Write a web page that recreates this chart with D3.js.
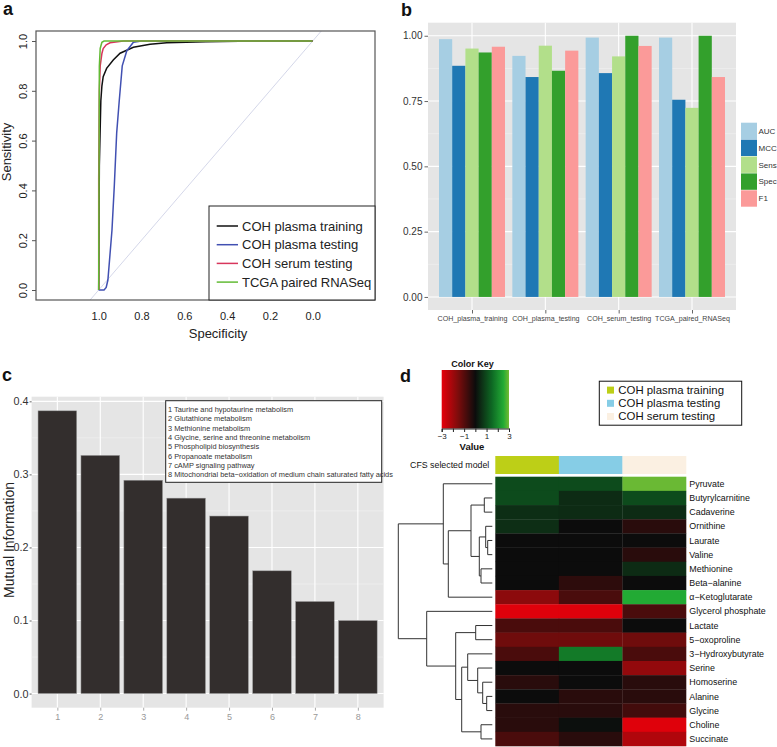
<!DOCTYPE html>
<html><head><meta charset="utf-8">
<script src="https://cdn.jsdelivr.net/npm/d3@7"></script>
<style>
body{margin:0;background:#fff}
svg{display:block;font-family:"Liberation Sans",Arial,Helvetica,sans-serif}
</style>
</head><body>
<svg id="chart" width="777" height="747"></svg>
<script>
// ---------------- DATA ----------------
// Panel a: ROC curves (specificity, sensitivity)
const rocNames = ["COH plasma training","COH plasma testing","COH serum testing","TCGA paired RNASeq"];
const rocColors = ["#111111","#4150b2","#d8365c","#62bb35"];
const trainSpec = [1,0.997,0.99,0.985,0.979,0.963,0.932,0.9,0.838,0.76,0.682,0.5,0.25,0];
const trainSens = [0,0.5,0.76,0.82,0.857,0.89,0.924,0.951,0.975,0.987,0.993,0.997,1,1];
const testSpec = [1,0.975,0.965,0.957,0.938,0.927,0.916,0.904,0.89,0.869,0.838,0.8,0];
const testSens = [0,0,0.01,0.04,0.24,0.42,0.63,0.76,0.9,0.96,0.995,1,1];
const serumSpec = [1,1,0.997,0.993,0.985,0.979,0.965,0.947,0.885,0];
const serumSens = [0,0.45,0.8,0.9,0.95,0.97,0.985,0.993,1,1];
const tcgaSpec = [1,0.997,0.993,0.985,0.975,0];
const tcgaSens = [0,0.9,0.97,0.995,1,1];
const rocTicks = [1.0,0.8,0.6,0.4,0.2,0.0];

// Panel b: performance metrics
const datasets = ["COH_plasma_training","COH_plasma_testing","COH_serum_testing","TCGA_paired_RNASeq"];
const metrics = ["AUC","MCC","Sens","Spec","F1"];
const metricColors = ["#a6cee3","#1f78b4","#b2df8a","#33a02c","#fb9a99"];
const aucVals  = [0.987,0.923,0.993,0.993];
const mccVals  = [0.885,0.842,0.857,0.755];
const sensVals = [0.951,0.962,0.921,0.724];
const specVals = [0.936,0.866,1.000,1.000];
const f1Vals   = [0.958,0.943,0.961,0.842];
const bTicks = [0,0.25,0.5,0.75,1];

// Panel c: mutual information per pathway
const pathwayIds = ["1","2","3","4","5","6","7","8"];
const pathwayNames = ["Taurine and hypotaurine metabolism","Glutathione metabolism","Methionine metabolism",
  "Glycine, serine and threonine metabolism","Phospholipid biosynthesis","Propanoate metabolism",
  "cAMP signaling pathway","Mitochondrial beta\u2212oxidation of medium chain saturated fatty acids"];
const miVals = [0.387,0.326,0.292,0.2675,0.243,0.168,0.126,0.100];
const cTicks = [0,0.1,0.2,0.3,0.4];

// Panel d: heatmap
const hmCols = ["COH plasma training","COH plasma testing","COH serum testing"];
const hmColColors = ["#bdcf17","#86cde6","#fbf0e2"];
const hmRows = ["Pyruvate","Butyrylcarnitine","Cadaverine","Ornithine","Laurate","Valine","Methionine",
  "Beta\u2212alanine","\u03b1\u2212Ketoglutarate","Glycerol phosphate","Lactate","5\u2212oxoproline",
  "3\u2212Hydroxybutyrate","Serine","Homoserine","Alanine","Glycine","Choline","Succinate"];
const valTraining = [1.0,1.0,0.55,0.55,0.0,0.0,0.0,0.0,-1.75,-2.9,-0.85,-1.35,-0.85,0.0,-0.4,0.0,-0.4,-0.4,-0.85];
const valTesting  = [1.0,0.5,0.5,0.0,0.0,0.0,0.0,-0.45,-0.85,-2.9,-0.85,-1.35,1.75,0.0,0.0,-0.4,-0.4,0.05,-0.4];
const valSerum    = [2.95,1.0,0.5,-0.4,0.0,-0.4,0.5,0.0,2.5,-0.85,0.0,-1.35,-0.85,-1.85,-0.4,-0.4,-0.75,-2.9,-2.25];
const keyStops  = [-3,-1.5,0,1.5,2.5,3];
const keyColors = ["#e6000b","#7a0c0c","#0c0c0c","#0e6a24","#22aa34","#72bb34"];
const keyTicks = [-3,-2,-1,0,1,2,3];
const keyLabels = [-3,-1,1,3];
// Row dendrogram (hclust style: negative = leaf index, positive = merge step)
const mergeLeft   = [-5,-16,-4,-2,-15,-7,-18, 3,-14,-11, 4,-13,12,10,11,-1,-10,16];
const mergeRight  = [-6,-17, 1,-3,  2,-8,-19, 6,  5,-12, 8,  9, 7,13,-9,15, 14,17];
const mergeHeight = [4.6,5.6,6.6,8,9.6,11.3,11.3,13,14.6,16.6,21.3,24.6,30.6,36.6,44,49,65.6,94];

// ---------------- DRAW ----------------
const svg = d3.select("#chart");
const label = (x,y,t) => svg.append("text").attr("x",x).attr("y",y).text(t)
  .attr("font-size",18).attr("font-weight","bold").attr("fill","#111");
label(3,15,"a"); label(401,16,"b"); label(2,381,"c"); label(400,382,"d");

// ===== Panel a =====
(function(){
  const g = svg.append("g");
  const x = d3.scaleLinear().domain([1,0]).range([98.7,312.7]);
  const y = d3.scaleLinear().domain([0,1]).range([290,41]);
  const box = {x0:36,x1:375,y0:31,y1:300};
  svg.append("clipPath").attr("id","clipA").append("rect")
    .attr("x",box.x0).attr("y",box.y0).attr("width",box.x1-box.x0).attr("height",box.y1-box.y0);
  const pg = g.append("g").attr("clip-path","url(#clipA)");
  pg.append("line").attr("x1",x(1.5)).attr("y1",y(-0.5)).attr("x2",x(-0.5)).attr("y2",y(1.5))
    .attr("stroke","#c9cde3").attr("stroke-width",0.8);
  const curves = [[trainSpec,trainSens],[testSpec,testSens],[serumSpec,serumSens],[tcgaSpec,tcgaSens]];
  const line = d3.line().x(d=>x(d[0])).y(d=>y(d[1]));
  curves.forEach((c,i)=>{
    const pts = c[0].map((s,j)=>[s,c[1][j]]);
    pg.append("path").attr("d",line(pts)).attr("fill","none")
      .attr("stroke",rocColors[i]).attr("stroke-width",1.5);
  });
  g.append("rect").attr("x",box.x0).attr("y",box.y0).attr("width",box.x1-box.x0).attr("height",box.y1-box.y0)
    .attr("fill","none").attr("stroke","#555").attr("stroke-width",1.2);
  const ya = g.append("g").attr("transform",`translate(${box.x0},0)`)
    .call(d3.axisLeft(y).tickValues([0,0.2,0.4,0.6,0.8,1]).tickFormat(d3.format(".1f")).tickSize(4));
  ya.select(".domain").remove();
  ya.selectAll("line").attr("stroke","#555");
  ya.selectAll("text").attr("x",null).attr("dy",null).attr("text-anchor","middle")
    .attr("transform","translate(-9,0) rotate(-90)").attr("font-size",11)
    .attr("font-family",null).attr("fill","#222");
  const xa = g.append("g").attr("transform",`translate(0,${box.y1})`)
    .call(d3.axisBottom(x).tickValues(rocTicks).tickFormat(d3.format(".1f")).tickSize(0));
  xa.select(".domain").remove();
  xa.selectAll("text").attr("y",12).attr("dy","0.71em").attr("font-size",11)
    .attr("font-family",null).attr("fill","#222");
  g.append("text").attr("x",218).attr("y",338).attr("text-anchor","middle")
    .attr("font-size",13).attr("fill","#222").text("Specificity");
  g.append("text").attr("transform","translate(11,152) rotate(-90)").attr("text-anchor","middle")
    .attr("font-size",13).attr("fill","#222").text("Sensitivity");
  // legend
  g.append("rect").attr("x",209).attr("y",206).attr("width",166).attr("height",94)
    .attr("fill","#fff").attr("stroke","#222").attr("stroke-width",1);
  rocNames.forEach((n,i)=>{
    const yy = 226 + i*18.7;
    g.append("line").attr("x1",216.7).attr("x2",238).attr("y1",yy).attr("y2",yy)
      .attr("stroke",rocColors[i]).attr("stroke-width",1.5);
    g.append("text").attr("x",242).attr("y",yy).attr("dy","0.35em").attr("font-size",13)
      .attr("fill","#222").text(n);
  });
})();

// ===== Panel b =====
(function(){
  const g = svg.append("g");
  const P = {x0:428,x1:736,y0:22.7,y1:310};
  const x = d3.scalePoint().domain(datasets).range([P.x0,P.x1]).padding(0.6);
  const step = x.step();
  const x1 = d3.scaleBand().domain(metrics).range([-0.45*step,0.45*step]);
  const y = d3.scaleLinear().domain([-0.05,1.05]).range([P.y1,P.y0]);
  g.append("rect").attr("x",P.x0).attr("y",P.y0).attr("width",P.x1-P.x0).attr("height",P.y1-P.y0).attr("fill","#e5e5e5");
  [0.125,0.375,0.625,0.875].forEach(v=>g.append("line").attr("x1",P.x0).attr("x2",P.x1)
    .attr("y1",y(v)).attr("y2",y(v)).attr("stroke","#f2f2f2").attr("stroke-width",0.6));
  bTicks.forEach(v=>g.append("line").attr("x1",P.x0).attr("x2",P.x1)
    .attr("y1",y(v)).attr("y2",y(v)).attr("stroke","#fff").attr("stroke-width",1.1));
  datasets.forEach(d=>g.append("line").attr("x1",x(d)).attr("x2",x(d))
    .attr("y1",P.y0).attr("y2",P.y1).attr("stroke","#fff").attr("stroke-width",1.1));
  const series = [aucVals,mccVals,sensVals,specVals,f1Vals];
  datasets.forEach((d,i)=>{
    metrics.forEach((m,k)=>{
      g.append("rect").attr("x",x(d)+x1(m)).attr("width",x1.bandwidth())
        .attr("y",y(series[k][i])).attr("height",y(0)-y(series[k][i])).attr("fill",metricColors[k]);
    });
  });
  const ya = g.append("g").attr("transform",`translate(${P.x0},0)`)
    .call(d3.axisLeft(y).tickValues(bTicks).tickFormat(d3.format(".2f")).tickSize(3.5).tickPadding(2));
  ya.select(".domain").remove();
  ya.selectAll("line").attr("stroke","#666");
  ya.selectAll("text").attr("font-size",10).attr("font-family",null).attr("fill","#333");
  const xa = g.append("g").attr("transform",`translate(0,${P.y1})`)
    .call(d3.axisBottom(x).tickSize(3.5).tickPadding(2.5));
  xa.select(".domain").remove();
  xa.selectAll("line").attr("stroke","#666");
  xa.selectAll("text").attr("font-size",7.1).attr("font-family",null).attr("fill","#444");
  metrics.forEach((m,k)=>{
    const yy = 122.7 + k*16.9;
    g.append("rect").attr("x",741).attr("y",yy).attr("width",16).attr("height",16.4).attr("fill",metricColors[k]);
    g.append("text").attr("x",758.5).attr("y",yy+8.2).attr("dy","0.35em").attr("font-size",8)
      .attr("fill","#333").text(m);
  });
})();

// ===== Panel c =====
(function(){
  const g = svg.append("g");
  const P = {x0:31.6,x1:383.6,y0:396.7,y1:707.7};
  const x = d3.scalePoint().domain(pathwayIds).range([P.x0,P.x1]).padding(0.6);
  const bw = 0.9*x.step();
  const y = d3.scaleLinear().domain([-0.01935,0.40635]).range([P.y1,P.y0]);
  g.append("rect").attr("x",P.x0).attr("y",P.y0).attr("width",P.x1-P.x0).attr("height",P.y1-P.y0).attr("fill","#e5e5e5");
  [0.05,0.15,0.25,0.35].forEach(v=>g.append("line").attr("x1",P.x0).attr("x2",P.x1)
    .attr("y1",y(v)).attr("y2",y(v)).attr("stroke","#f2f2f2").attr("stroke-width",0.6));
  cTicks.forEach(v=>g.append("line").attr("x1",P.x0).attr("x2",P.x1)
    .attr("y1",y(v)).attr("y2",y(v)).attr("stroke","#fff").attr("stroke-width",1.1));
  pathwayIds.forEach(d=>g.append("line").attr("x1",x(d)).attr("x2",x(d))
    .attr("y1",P.y0).attr("y2",P.y1).attr("stroke","#fff").attr("stroke-width",1.1));
  pathwayIds.forEach((d,i)=>{
    g.append("rect").attr("x",x(d)-bw/2).attr("width",bw).attr("y",y(miVals[i]))
      .attr("height",y(0)-y(miVals[i])).attr("fill","#332e2d").attr("stroke","#9a9a9a").attr("stroke-width",0.5);
  });
  const ya = g.append("g").attr("transform",`translate(${P.x0},0)`)
    .call(d3.axisLeft(y).tickValues(cTicks).tickFormat(d3.format(".1f")).tickSize(2).tickPadding(1));
  ya.select(".domain").remove();
  ya.selectAll("line").attr("stroke","#666");
  ya.selectAll("text").attr("font-size",10.8).attr("font-family",null).attr("fill","#333");
  const xa = g.append("g").attr("transform",`translate(0,${P.y1})`)
    .call(d3.axisBottom(x).tickSize(3).tickPadding(3));
  xa.select(".domain").remove();
  xa.selectAll("line").attr("stroke","#aaa");
  xa.selectAll("text").attr("font-size",9).attr("font-family",null).attr("fill","#999");
  g.append("text").attr("transform","translate(14,540) rotate(-90)").attr("text-anchor","middle")
    .attr("font-size",14).attr("fill","#222").text("Mutual Information");
  g.append("rect").attr("x",165.7).attr("y",400.7).attr("width",216).attr("height",81.6)
    .attr("fill","#fff").attr("stroke","#222").attr("stroke-width",1);
  pathwayNames.forEach((n,i)=>{
    g.append("text").attr("x",168).attr("y",409.3+i*9.33).attr("dy","0.35em")
      .attr("font-size",7.4).attr("fill","#333").text(pathwayIds[i]+" "+n);
  });
})();

// ===== Panel d =====
(function(){
  const g = svg.append("g");
  const color = d3.scaleLinear().domain(keyStops).range(keyColors);
  // color key
  const kx = d3.scaleLinear().domain([-3,3]).range([441.7,509]);
  const grad = svg.append("defs").append("linearGradient").attr("id","keyGrad");
  d3.range(0,1.0001,0.02).forEach(t=>grad.append("stop").attr("offset",t).attr("stop-color",color(-3+6*t)));
  g.append("rect").attr("x",441.7).attr("y",370).attr("width",509-441.7).attr("height",58.5).attr("fill","url(#keyGrad)");
  g.append("text").attr("x",472.5).attr("y",367).attr("text-anchor","middle").attr("font-size",9)
    .attr("font-weight","bold").attr("fill","#111").text("Color Key");
  const ka = g.append("g").attr("transform","translate(0,428.5)")
    .call(d3.axisBottom(kx).tickValues(keyTicks).tickFormat(d=>keyLabels.includes(d)?(d<0?"\u2212"+(-d):d):"").tickSize(3.5).tickPadding(1.5));
  ka.select(".domain").attr("stroke","#222");
  ka.selectAll("line").attr("stroke","#222");
  ka.selectAll("text").attr("font-size",8).attr("font-family",null).attr("fill","#222");
  g.append("text").attr("x",472).attr("y",449.5).attr("text-anchor","middle").attr("font-size",9.5)
    .attr("font-weight","bold").attr("fill","#111").text("Value");
  // legend
  g.append("rect").attr("x",599.3).attr("y",381.2).attr("width",142.4).attr("height",44)
    .attr("fill","#fff").attr("stroke","#111").attr("stroke-width",1);
  hmCols.forEach((n,i)=>{
    const yy = 390.1 + i*13.2;
    g.append("rect").attr("x",607).attr("y",yy-3.5).attr("width",7).attr("height",7).attr("fill",hmColColors[i]);
    g.append("text").attr("x",618.3).attr("y",yy).attr("dy","0.35em").attr("font-size",11.4)
      .attr("fill","#111").text(n);
  });
  // heatmap
  const x = d3.scaleBand().domain(hmCols).range([495.3,686]);
  const y = d3.scaleBand().domain(hmRows).range([476.7,746]);
  g.append("text").attr("x",489.3).attr("y",465).attr("dy","0.35em").attr("text-anchor","end")
    .attr("font-size",8.8).attr("fill","#111").text("CFS selected model");
  hmCols.forEach((c,i)=>g.append("rect").attr("x",x(c)).attr("y",456).attr("width",x.bandwidth()+0.3)
    .attr("height",18).attr("fill",hmColColors[i]));
  const vals = [valTraining,valTesting,valSerum];
  hmRows.forEach((r,ri)=>{
    hmCols.forEach((c,ci)=>{
      g.append("rect").attr("x",x(c)).attr("y",y(r)).attr("width",x.bandwidth()+0.3)
        .attr("height",y.bandwidth()+0.3).attr("fill",color(vals[ci][ri]));
    });
    g.append("text").attr("x",689.3).attr("y",y(r)+y.bandwidth()/2).attr("dy","0.35em")
      .attr("font-size",8.9).attr("fill","#111").text(r);
  });
  // dendrogram
  const hx = d3.scaleLinear().domain([0,94]).range([492.3,398.3]);
  const nodeY = [], nodeH = [];
  const getY = id => id<0 ? y(hmRows[-id-1])+y.bandwidth()/2 : nodeY[id-1];
  const getH = id => id<0 ? 0 : nodeH[id-1];
  mergeLeft.forEach((l,i)=>{
    const r = mergeRight[i], h = mergeHeight[i];
    const yl = getY(l), yr = getY(r);
    nodeY[i] = (yl+yr)/2; nodeH[i] = h;
    const X = hx(h);
    g.append("path").attr("d",`M${hx(getH(l))},${yl}H${X}V${yr}H${hx(getH(r))}`)
      .attr("fill","none").attr("stroke","#333").attr("stroke-width",1);
  });
})();
</script>
</body></html>
